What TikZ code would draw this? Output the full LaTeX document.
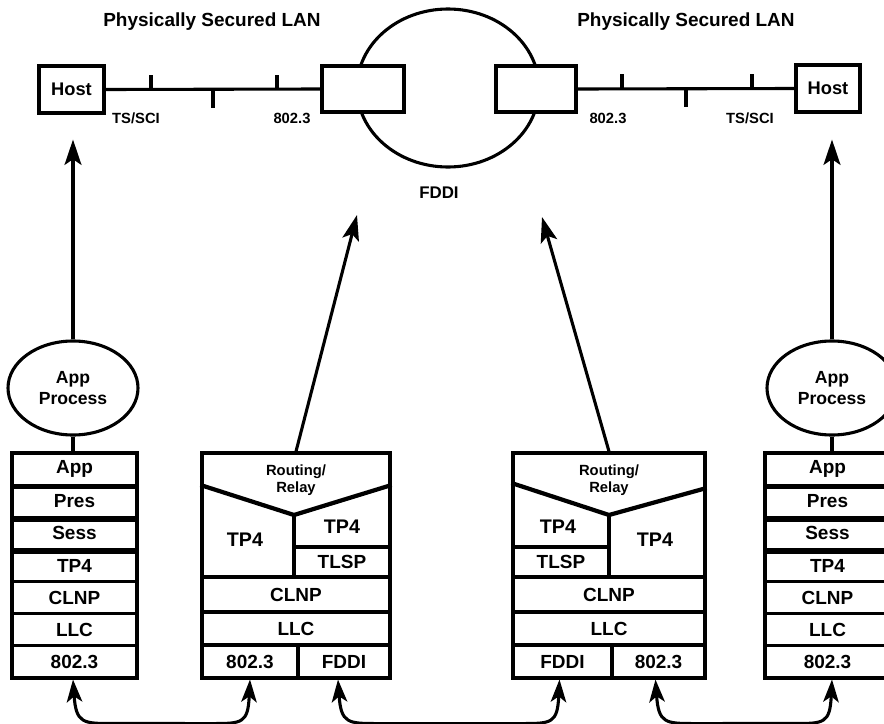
\documentclass[tikz,border=0pt]{standalone}
\usepackage{fontspec}
\setmainfont{Liberation Sans}
\usetikzlibrary{arrows.meta,shapes.geometric,calc}
\newcommand\pxu{0.025cm}
\begin{document}
\begin{tikzpicture}[x=0.025cm,y=-0.025cm,
  lw/.style={line width=2.2pt},
  tip/.style={-{Stealth[length=18pt,width=12pt,inset=4pt]}},
  bi/.style={{Stealth[length=16pt,width=11pt,inset=4pt]}-{Stealth[length=16pt,width=11pt,inset=4pt]}},
  cell/.style={draw,line width=2.2pt,inner sep=0pt,minimum width=125*\pxu,minimum height=32.14*\pxu,
    font=\fontsize{13.5}{14}\selectfont\bfseries},
  lbl/.style={font=\fontsize{13.5}{14}\selectfont\bfseries,inner sep=0pt},
  small/.style={font=\fontsize{10.5}{11}\selectfont\bfseries,inner sep=0pt},
  rr/.style={font=\fontsize{10.5}{12.5}\selectfont\bfseries,align=center,inner sep=0pt},
  title/.style={font=\fontsize{13.5}{14}\selectfont\bfseries,inner sep=0pt},
  sep/.style={line width=3.8pt},
  vee/.style={line width=3pt}]
\useasboundingbox (0,0) rectangle (884,724);
\clip (0,0) rectangle (884,724);

% titles
\node[title] (t1) at (212,22) {Physically Secured LAN};
\node[title] (t2) at (686,22) {Physically Secured LAN};

% FDDI ring
\node[draw,lw,ellipse,minimum width=182*\pxu,minimum height=158*\pxu,inner sep=0pt] (ring) at (448,88) {};
\node[lbl,font=\fontsize{12}{13}\selectfont\bfseries] (fl) at (439,193) {FDDI};

% hosts and gateway boxes
\node[draw,lw,fill=white,minimum width=65*\pxu,minimum height=47*\pxu,inner sep=0pt,
  font=\fontsize{13}{14}\selectfont\bfseries] (hostL) at (71.5,89.5) {Host};
\node[draw,lw,fill=white,minimum width=64*\pxu,minimum height=47*\pxu,inner sep=0pt,
  font=\fontsize{13}{14}\selectfont\bfseries] (hostR) at (828,88.5) {Host};
\node[draw,lw,fill=white,minimum width=82*\pxu,minimum height=46*\pxu,inner sep=0pt] (gwL) at (363,89) {};
\node[draw,lw,fill=white,minimum width=80*\pxu,minimum height=46*\pxu,inner sep=0pt] (gwR) at (536,89) {};

% LAN lines
\draw[lw] (hostL.east) -- (gwL.west);
\draw[lw] (151,90) -- (151,75) (213,90) -- (213,108) (277,90) -- (277,75);
\draw[lw] (gwR.east) -- (hostR.west);
\draw[lw] (622,89) -- (622,74) (686,89) -- (686,107) (752,89) -- (752,74);
\node[small] (lab1) at (136,118) {TS/SCI};
\node[small] (lab2) at (292,118) {802.3};
\node[small] (lab3) at (608,118) {802.3};
\node[small] (lab4) at (750,118) {TS/SCI};

% App process ellipses
\node[draw,lw,ellipse,minimum width=130*\pxu,minimum height=94*\pxu,inner sep=0pt,align=center,
  font=\fontsize{12.5}{15}\selectfont\bfseries] (apL) at (73,388) {App\\Process};
\node[draw,lw,ellipse,minimum width=130*\pxu,minimum height=94*\pxu,inner sep=0pt,align=center,
  font=\fontsize{12.5}{15}\selectfont\bfseries] (apR) at (832,388) {App\\Process};

% end stacks
\foreach \t [count=\i] in {App,Pres,Sess,TP4,CLNP,LLC,802.3} {
  \node[cell] (L\i) at (74.5,{469.07+32.14*(\i-1)}) {\t};
  \node[cell] (Q\i) at (827.5,{469.07+32.14*(\i-1)}) {\t};
}
\foreach \i in {1,2,3} {
  \draw[sep] (L\i.south west) -- (L\i.south east);
  \draw[sep] (Q\i.south west) -- (Q\i.south east);
}

% router 1
\node[draw,lw,minimum width=188*\pxu,minimum height=225*\pxu,inner sep=0pt] (R1) at (296,565.5) {};
\node[cell,minimum width=188*\pxu,minimum height=35*\pxu] (R1c) at (296,594.5) {CLNP};
\node[cell,minimum width=188*\pxu,minimum height=33*\pxu] (R1l) at (296,628.5) {LLC};
\node[cell,minimum width=96*\pxu,minimum height=33*\pxu] (R1a) at (250,661.5) {802.3};
\node[cell,minimum width=92*\pxu,minimum height=33*\pxu] (R1b) at (344,661.5) {FDDI};
\node[cell,minimum width=96*\pxu,minimum height=30*\pxu] (R1t) at (342,562) {TLSP};
\draw[vee] (R1.north west |- 0,485) -- (294,515) -- (R1.north east |- 0,485);
\draw[lw] (294,515) -- (294,577);
\node[rr] (R1r) at (296,480) {Routing/\\Relay};
\node[lbl,font=\fontsize{14}{15}\selectfont\bfseries] (R1p) at (245,540) {TP4};
\node[lbl,font=\fontsize{14}{15}\selectfont\bfseries] (R1q) at (342,527) {TP4};

% router 2
\node[draw,lw,minimum width=192*\pxu,minimum height=225*\pxu,inner sep=0pt] (R2) at (609,565.5) {};
\node[cell,minimum width=192*\pxu,minimum height=35*\pxu] (R2c) at (609,594.5) {CLNP};
\node[cell,minimum width=192*\pxu,minimum height=33*\pxu] (R2l) at (609,628.5) {LLC};
\node[cell,minimum width=99*\pxu,minimum height=33*\pxu] (R2a) at (562.5,661.5) {FDDI};
\node[cell,minimum width=93*\pxu,minimum height=33*\pxu] (R2b) at (658.5,661.5) {802.3};
\node[cell,minimum width=96*\pxu,minimum height=30*\pxu] (R2t) at (561,562) {TLSP};
\draw[vee] (R2.north west |- 0,483) -- (609,515) -- (R2.north east |- 0,488);
\draw[lw] (609,515) -- (609,577);
\node[rr] (R2r) at (609,480) {Routing/\\Relay};
\node[lbl,font=\fontsize{14}{15}\selectfont\bfseries] (R2p) at (558,527) {TP4};
\node[lbl,font=\fontsize{14}{15}\selectfont\bfseries] (R2q) at (655,540) {TP4};

% vertical connections
\draw[lw] (apL.south) -- (apL.south |- L1.north);
\draw[lw] (apR.south) -- (apR.south |- Q1.north);
\draw[lw,tip,shorten >=25*\pxu] (apL.north) -- (apL.north |- hostL.south);
\draw[lw,tip,shorten >=26*\pxu] (apR.north) -- (apR.north |- hostR.south);
\coordinate (f1) at (357,215);
\coordinate (f2) at (542,217);
\draw[lw,tip] (R1.north) -- (f1);
\draw[lw,tip] (R2.north) -- (f2);

% bottom links
\coordinate (b1) at ($(L7.south)+(-1.5,0)$);
\coordinate (b2) at (R1a.south);
\coordinate (b3) at ($(R1b.south)+(-6,0)$);
\coordinate (b4) at ($(R2a.south)+(-3,0)$);
\coordinate (b5) at ($(R2b.south)+(-3,0)$);
\coordinate (b6) at ($(Q7.south)+(4.5,0)$);
\foreach \a/\b in {b1/b2,b3/b4,b5/b6} {
  \draw[lw,bi] (\a) .. controls ($(\a)+(3,44)$) and ($(\a)+(10,44)$) .. ($(\a)+(40,44)$)
     -- ($(\b)+(-38,44)$) .. controls ($(\b)+(-8,44)$) and ($(\b)+(-2,44)$) .. (\b);
}
\end{tikzpicture}
\end{document}
